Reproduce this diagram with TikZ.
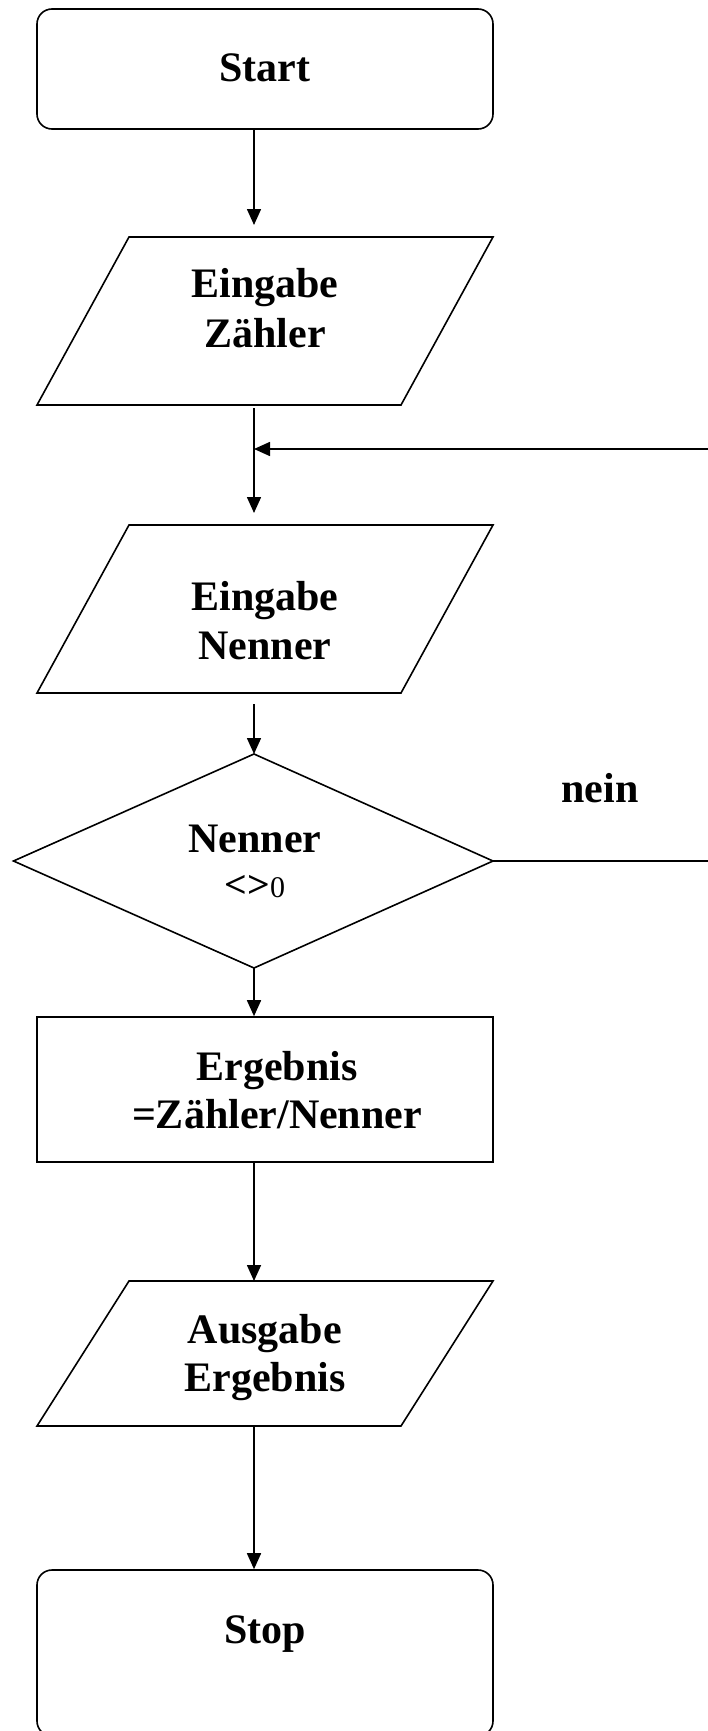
\documentclass[tikz,border=0pt]{standalone}
\usepackage{fontspec}
\setmainfont{Liberation Serif}
\usetikzlibrary{arrows.meta}
\begin{document}
\begin{tikzpicture}[x=1pt,y=-1pt,line width=1.6pt,
  arr/.style={-{Triangle[length=16pt,width=14pt]}},
  lbl/.style={font=\fontsize{42}{49}\selectfont\bfseries,anchor=base,inner sep=0pt},
  shp/.style={draw,line join=miter}]
\useasboundingbox (0,0) rectangle (708,1731);
% shapes
\node[shp,rounded corners=15pt,minimum width=456pt,minimum height=120pt,inner sep=0pt] (start) at (265,69) {};
\draw[shp] (129,237) coordinate (in1tr) -- (493,237) -- (401,405) -- (37,405) -- cycle;
\draw[shp] (129,525) -- (493,525) -- (401,693) -- (37,693) -- cycle;
\draw[shp] (254,754) coordinate (dtop) -- (493,861) coordinate (dright) -- (254,968) coordinate (dbot) -- (13.5,861) -- cycle;
\node[shp,minimum width=456pt,minimum height=145pt,inner sep=0pt] (calc) at (265,1089.5) {};
\draw[shp] (129,1281) -- (493,1281) -- (401,1426) -- (37,1426) -- cycle;
\node[shp,rounded corners=15pt,minimum width=456pt,minimum height=166pt,inner sep=0pt] (stop) at (265,1653) {};
% named connector points
\coordinate (a1e) at (254,225);
\coordinate (a2s) at (254,408);
\coordinate (a2e) at (254,513);
\coordinate (join) at (254,449);
\coordinate (loopr) at (708,449);
\coordinate (a3s) at (254,704);
\coordinate (a3e) at (254,754);
\coordinate (neinr) at (708,861);
\coordinate (out3t) at (254,1281);
\coordinate (out3b) at (254,1426);
% texts
\node[lbl] (tstart) at (265,82) {Start};
\node[lbl] (tin1a) at (265,297) {Eingabe};
\node[lbl] (tin1b) at (265,347) {Zähler};
\node[lbl] (tin2a) at (265,610) {Eingabe};
\node[lbl] (tin2b) at (265,659) {Nenner};
\node[lbl] (tdeca) at (255,852) {Nenner};
\node[lbl,font=\fontsize{30}{34}\selectfont] (tdecb) at (255,897) {{\fontsize{38}{40}\selectfont\bfseries\scalebox{1.05}[1]{<>}}0};
\node[lbl] (tnein) at (600,802) {nein};
\node[lbl] (tcalca) at (277,1080) {Ergebnis};
\node[lbl] (tcalcb) at (277,1128) {=Zähler/Nenner};
\node[lbl] (tout1) at (265,1343) {Ausgabe};
\node[lbl] (tout2) at (265,1391) {Ergebnis};
\node[lbl] (tstop) at (265,1643) {Stop};
% connectors
\draw[arr] (start.south -| a1e) -- (a1e);
\draw[arr] (a2s) -- (a2e);
\draw[arr] (loopr) -- (join);
\draw[arr] (a3s) -- (a3e);
\draw (dright) -- (neinr);
\draw[arr] (dbot) -- (calc.north -| dbot);
\draw[arr] (calc.south -| dbot) -- (out3t);
\draw[arr] (out3b) -- (stop.north -| out3b);
\end{tikzpicture}
\end{document}
